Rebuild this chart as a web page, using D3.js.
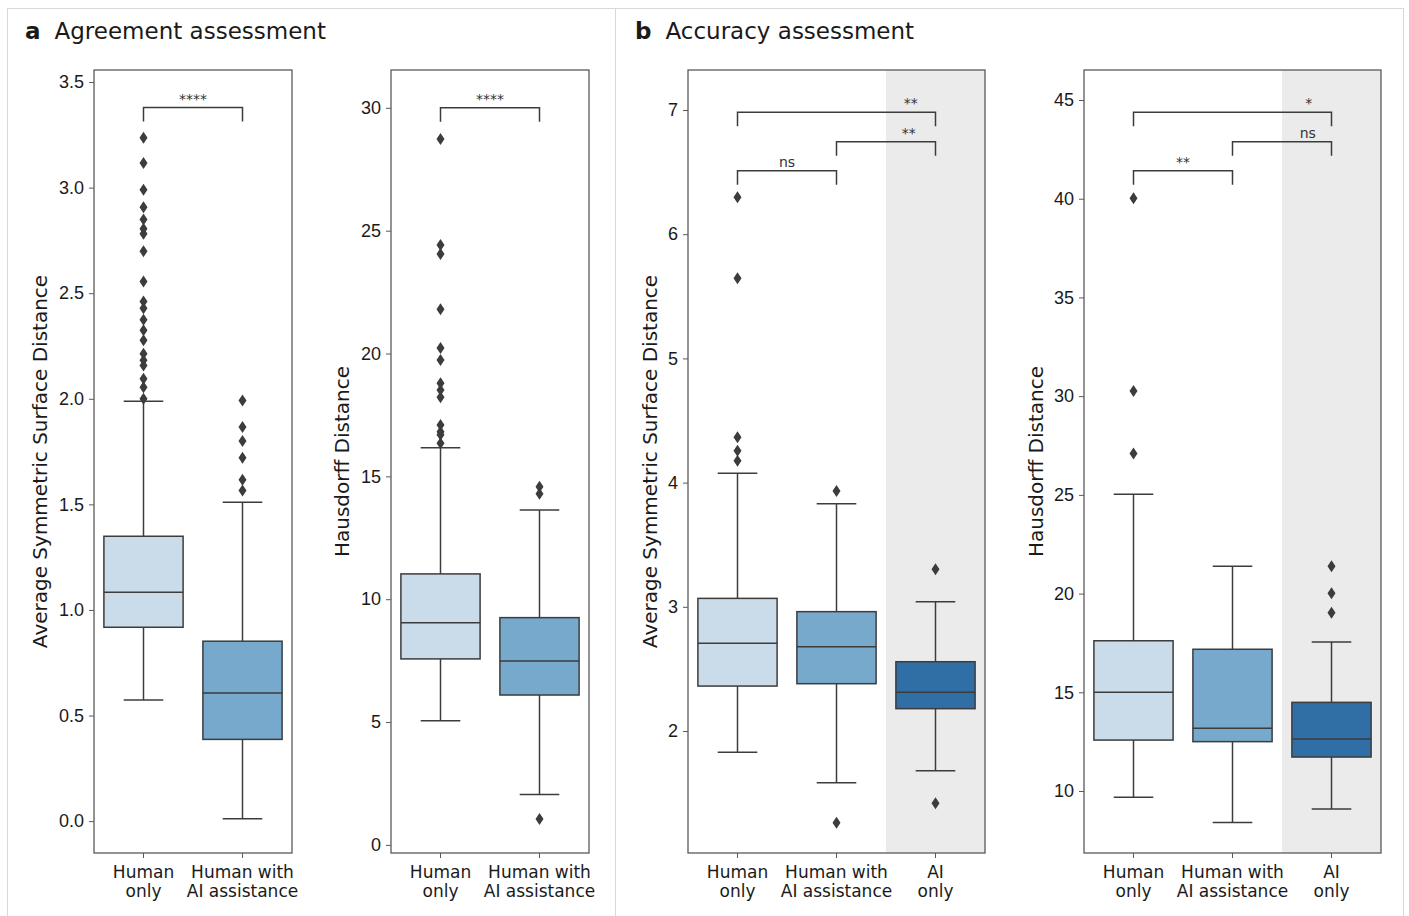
<!DOCTYPE html>
<html lang="en">
<head>
  <meta charset="UTF-8">
  <title>Agreement and accuracy assessment</title>
  <script src="https://d3js.org/d3.v7.min.js"></script>
  <style>
    body {
      margin: 0;
      background: #fff;
      font-family: "DejaVu Sans", sans-serif;
    }
    svg text { fill: #1a1a1a; }
    .stat text { fill: #333; }
  </style>
</head>
<body>
  <div id="chart"></div>

  <script>
    // categories
    const groupsTwo = ["Human only", "Human with AI assistance"];
    const groupsThree = ["Human only", "Human with AI assistance", "AI only"];
    const tickLabelLines = {
      "Human only": ["Human", "only"],
      "Human with AI assistance": ["Human with", "AI assistance"],
      "AI only": ["AI", "only"]
    };

    // box stats: [lower whisker, q1, median, q3, upper whisker]
    const agreeAssdStats = [
      [0.573, 0.918, 1.084, 1.349, 1.988],
      [0.011, 0.387, 0.607, 0.852, 1.510]
    ];
    const agreeAssdOutliers = [
      [3.236, 3.117, 2.990, 2.907, 2.849, 2.805, 2.781, 2.699, 2.556, 2.461,
       2.429, 2.374, 2.324, 2.277, 2.213, 2.182, 2.158, 2.095, 2.055, 2.000],
      [1.992, 1.866, 1.800, 1.721, 1.617, 1.566]
    ];
    const agreeHdStats = [
      [5.05, 7.57, 9.04, 11.03, 16.16],
      [2.05, 6.10, 7.48, 9.25, 13.63]
    ];
    const agreeHdOutliers = [
      [28.73, 24.42, 24.05, 21.80, 20.22, 19.74, 18.79, 18.52, 18.22, 17.09,
       16.82, 16.69, 16.35],
      [14.58, 14.29, 1.05]
    ];
    const accAssdStats = [
      [1.829, 2.362, 2.706, 3.068, 4.075],
      [1.584, 2.381, 2.679, 2.961, 3.830],
      [1.680, 2.180, 2.312, 2.558, 3.041]
    ];
    const accAssdOutliers = [
      [6.297, 5.645, 4.365, 4.257, 4.176],
      [3.932, 1.262],
      [3.302, 1.418]
    ];
    const accHdStats = [
      [9.68, 12.58, 15.00, 17.61, 25.03],
      [8.41, 12.50, 13.18, 17.18, 21.38],
      [9.09, 11.72, 12.63, 14.49, 17.55]
    ];
    const accHdOutliers = [
      [40.03, 30.26, 27.09],
      [],
      [21.38, 20.02, 19.03]
    ];

    // tick values
    const agreeAssdTicks = [0.0, 0.5, 1.0, 1.5, 2.0, 2.5, 3.0, 3.5];
    const agreeHdTicks = [0, 5, 10, 15, 20, 25, 30];
    const accAssdTicks = [2, 3, 4, 5, 6, 7];
    const accHdTicks = [10, 15, 20, 25, 30, 35, 40, 45];

    // significance brackets: [from, to, label, level (data units), label position along bracket]
    const agreeAssdPairs = [[0, 1, "****", 3.379, 0.5]];
    const agreeHdPairs = [[0, 1, "****", 30.0, 0.5]];
    const accAssdPairs = [[0, 2, "**", 6.981, 0.875], [1, 2, "**", 6.745, 0.73], [0, 1, "ns", 6.511, 0.5]];
    const accHdPairs = [[0, 2, "*", 44.38, 0.885], [1, 2, "ns", 42.89, 0.76], [0, 1, "**", 41.42, 0.5]];

    const palette = ["#cadbea", "#76a9cb", "#306ea6"];
    const lineColor = "#3c3c3c";
    const spineColor = "#5a5a5a";

    const width = 1409, height = 916;
    const plotTop = 70, plotBottom = 853;

    const svg = d3.select("#chart").append("svg")
      .attr("width", width)
      .attr("height", height);

    // frame lines
    const frame = svg.append("g").attr("stroke", "#d9d9d9").attr("stroke-width", 1);
    frame.append("line").attr("x1", 7).attr("x2", 1403).attr("y1", 8.5).attr("y2", 8.5);
    frame.append("line").attr("x1", 7.5).attr("x2", 7.5).attr("y1", 8).attr("y2", height);
    frame.append("line").attr("x1", 615.5).attr("x2", 615.5).attr("y1", 8).attr("y2", height);
    frame.append("line").attr("x1", 1403.5).attr("x2", 1403.5).attr("y1", 8).attr("y2", height);

    // panel titles
    function title(x, letter, text) {
      const t = svg.append("text").attr("x", x).attr("y", 39).style("font-size", "23px");
      t.append("tspan").style("font-weight", "bold").text(letter);
      t.append("tspan").attr("dx", 14).text(text);
    }
    title(25, "a", "Agreement assessment");
    title(635, "b", "Accuracy assessment");

    const panels = [
      { x0: 94, x1: 292, domain: [-0.151, 3.557], groups: groupsTwo, stats: agreeAssdStats,
        outliers: agreeAssdOutliers, ticks: agreeAssdTicks, fmt: d3.format(".1f"),
        pairs: agreeAssdPairs, label: "Average Symmetric Surface Distance", labelX: 40, shade: false },
      { x0: 391, x1: 589, domain: [-0.33, 31.54], groups: groupsTwo, stats: agreeHdStats,
        outliers: agreeHdOutliers, ticks: agreeHdTicks, fmt: d3.format("d"),
        pairs: agreeHdPairs, label: "Hausdorff Distance", labelX: 342, shade: false },
      { x0: 688, x1: 985, domain: [1.018, 7.322], groups: groupsThree, stats: accAssdStats,
        outliers: accAssdOutliers, ticks: accAssdTicks, fmt: d3.format("d"),
        pairs: accAssdPairs, label: "Average Symmetric Surface Distance", labelX: 650, shade: true },
      { x0: 1084, x1: 1381, domain: [6.86, 46.52], groups: groupsThree, stats: accHdStats,
        outliers: accHdOutliers, ticks: accHdTicks, fmt: d3.format("d"),
        pairs: accHdPairs, label: "Hausdorff Distance", labelX: 1036, shade: true }
    ];

    const diamond = "M0,-6L4,0L0,6L-4,0Z";

    panels.forEach(p => {
      const x = d3.scaleBand().domain(p.groups).range([p.x0, p.x1]);
      const y = d3.scaleLinear().domain(p.domain).range([plotBottom, plotTop]);
      const bw = x.bandwidth() * 0.8;
      const cx = g => x(g) + x.bandwidth() / 2;
      const g = svg.append("g");

      // AI only shading
      if (p.shade) {
        const last = p.groups[p.groups.length - 1];
        g.append("rect")
          .attr("x", x(last)).attr("y", plotTop)
          .attr("width", x.bandwidth()).attr("height", plotBottom - plotTop)
          .attr("fill", "#ebebeb");
      }

      // boxes
      p.groups.forEach((grp, i) => {
        const [lo, q1, med, q3, hi] = p.stats[i];
        const c = cx(grp);
        const bg = g.append("g").attr("stroke", lineColor).attr("stroke-width", 1.5);
        bg.append("line").attr("x1", c).attr("x2", c).attr("y1", y(hi)).attr("y2", y(q3));
        bg.append("line").attr("x1", c).attr("x2", c).attr("y1", y(q1)).attr("y2", y(lo));
        bg.append("line").attr("x1", c - bw / 4).attr("x2", c + bw / 4).attr("y1", y(hi)).attr("y2", y(hi));
        bg.append("line").attr("x1", c - bw / 4).attr("x2", c + bw / 4).attr("y1", y(lo)).attr("y2", y(lo));
        bg.append("rect")
          .attr("x", c - bw / 2).attr("y", y(q3))
          .attr("width", bw).attr("height", y(q1) - y(q3))
          .attr("fill", palette[i]);
        bg.append("line").attr("x1", c - bw / 2).attr("x2", c + bw / 2).attr("y1", y(med)).attr("y2", y(med));

        g.selectAll(null)
          .data(p.outliers[i])
          .join("path")
          .attr("d", diamond)
          .attr("transform", v => `translate(${c},${y(v)})`)
          .attr("fill", lineColor);
      });

      // significance brackets
      const sg = g.append("g").attr("class", "stat");
      p.pairs.forEach(([a, b, lab, lvl, pos]) => {
        const xa = cx(p.groups[a]), xb = cx(p.groups[b]), yy = y(lvl);
        sg.append("path")
          .attr("d", `M${xa},${yy + 14}V${yy}H${xb}V${yy + 14}`)
          .attr("fill", "none").attr("stroke", lineColor).attr("stroke-width", 1.5);
        sg.append("text")
          .attr("x", xa + (xb - xa) * pos).attr("y", yy - 4)
          .attr("text-anchor", "middle")
          .style("font-size", "14px")
          .text(lab);
      });

      // axes
      const yAxis = d3.axisLeft(y).tickValues(p.ticks).tickFormat(p.fmt).tickSize(5).tickPadding(5);
      const ya = svg.append("g").attr("transform", `translate(${p.x0},0)`).call(yAxis);
      ya.select(".domain").remove();
      ya.selectAll("line").attr("stroke", spineColor);
      ya.selectAll("text").style("font-size", "18px").attr("fill", "#1a1a1a");

      const xAxis = d3.axisBottom(x).tickSize(5).tickFormat("");
      const xa = svg.append("g").attr("transform", `translate(0,${plotBottom})`).call(xAxis);
      xa.select(".domain").remove();
      xa.selectAll("line").attr("stroke", spineColor);
      p.groups.forEach(grp => {
        const t = svg.append("text")
          .attr("x", cx(grp)).attr("y", 878)
          .attr("text-anchor", "middle")
          .style("font-size", "17px");
        tickLabelLines[grp].forEach((line, k) => {
          t.append("tspan").attr("x", cx(grp)).attr("dy", k === 0 ? 0 : 19).text(line);
        });
      });

      // frame
      svg.append("rect")
        .attr("x", p.x0).attr("y", plotTop)
        .attr("width", p.x1 - p.x0).attr("height", plotBottom - plotTop)
        .attr("fill", "none").attr("stroke", spineColor).attr("stroke-width", 1.3);

      // y label
      svg.append("text")
        .attr("transform", `translate(${p.labelX},${(plotTop + plotBottom) / 2}) rotate(-90)`)
        .attr("text-anchor", "middle")
        .attr("dy", "0.35em")
        .style("font-size", "20px")
        .text(p.label);
    });
  </script>
</body>
</html>
